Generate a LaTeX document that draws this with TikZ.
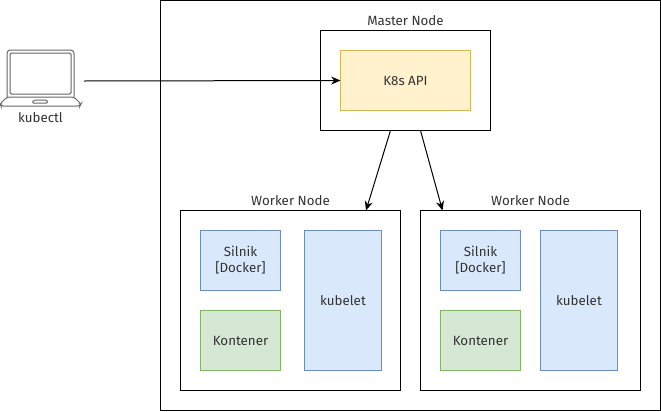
\documentclass[tikz,border=0pt]{standalone}
\usepackage{fontspec}
\setmainfont{Fira Sans}
\usetikzlibrary{arrows.meta, positioning, calc}
\definecolor{textgray}{HTML}{333333}
\definecolor{apifill}{HTML}{FFF2CC}
\definecolor{apidraw}{HTML}{D6B656}
\definecolor{bluefill}{HTML}{DAE8FC}
\definecolor{bluedraw}{HTML}{6C8EBF}
\definecolor{greenfill}{HTML}{D5E8D4}
\definecolor{greendraw}{HTML}{82B366}
\definecolor{iconline}{HTML}{666666}
\tikzset{
  frame/.style={
    rectangle, draw=black, fill=white, line width=0.75pt, inner sep=0pt,
    outer sep=0pt, minimum width=#1
  },
  box/.style={
    rectangle, draw=#1draw, fill=#1fill, line width=0.75pt, inner sep=0pt,
    outer sep=0pt, align=center, text=textgray,
    font=\fontsize{10}{12}\selectfont
  },
  caption/.style={
    text=textgray, inner sep=0pt, font=\fontsize{10}{12}\selectfont
  },
  arrow/.style={-{Stealth[length=7pt,width=6pt]}, line width=0.75pt}
}
\begin{document}
\begin{tikzpicture}[x=0.75pt, y=-0.75pt]
    \useasboundingbox (0,0) rectangle (661,411);
    % Outer frame
    \node[frame=375pt, minimum height=307.5pt, anchor=north west] (cluster) at (160.5,0.5) {};

    % Master
    \node[frame=127.5pt, minimum height=75pt, anchor=north west] (master) at (320.5,30.5) {};
    \node[box=api, minimum width=97.5pt, minimum height=45pt] (api) at (master.center) {K8s API};
    \node[caption, above=3.5pt of master.north] (mlabel) {Master Node};

    % Workers
    \node[frame=165pt, minimum height=135pt, anchor=north west] (worker1) at (180.5,210.5) {};
    \node[frame=165pt, minimum height=135pt, right=15pt of worker1] (worker2) {};
    \foreach \w in {1,2}{%
      \node[caption, above=3.5pt of worker\w.north] (wlabel\w) {Worker Node};
      \node[box=blue, minimum width=60pt, minimum height=45pt, anchor=north west]
        (silnik\w) at ([xshift=15pt,yshift=-15pt]worker\w.north west) {Silnik\\{[}Docker{]}};
      \node[box=green, minimum width=60pt, minimum height=45pt, below=15pt of silnik\w]
        (kontener\w) {Kontener};
    }
    \node[box=blue, minimum width=57.75pt, minimum height=105pt, anchor=north west]
      (kubelet1) at ([xshift=18pt]silnik1.north east) {kubelet};
    \node[box=blue, minimum width=57.75pt, minimum height=105pt, anchor=north west]
      (kubelet2) at ([xshift=15pt]silnik2.north east) {kubelet};

    % Laptop
    \coordinate (laptop) at (84,81);
    \draw[iconline, line width=0.75pt, rounded corners=2.5pt, fill=white]
      (7,97) -- (7,50) -- (74,50) -- (74,97);
    \draw[iconline, line width=0.75pt, rounded corners=1pt] (10,94) rectangle (71,53);
    \draw[iconline, line width=0.75pt, rounded corners=2pt, fill=white]
      (7,97) -- (74,97) -- (81,104) -- (80,106) -- (1,106) -- (0,104) -- cycle;
    \draw[iconline, line width=0.75pt, rounded corners=1pt]
      (32,103) -- (34,100) -- (47,100) -- (48,103) -- cycle;
    \node[caption] (kubectl) at (40.5,118) {kubectl};

    % Arrows
    \draw[arrow] (laptop) -- (api.west);
    \draw[arrow] ($(master.south)+(-15,0)$) -- ($(worker1.north)+(75.5,0)$);
    \draw[arrow] ($(master.south)+(15,0)$) -- ($(worker2.north west)+(22,0)$);
\end{tikzpicture}
\end{document}
